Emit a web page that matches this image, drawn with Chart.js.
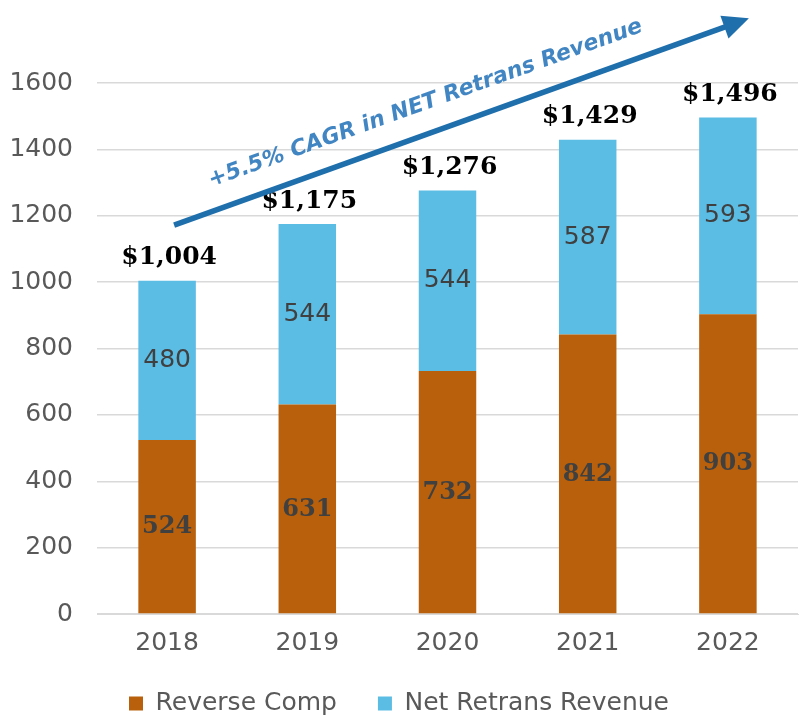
<!DOCTYPE html>
<html><head><meta charset="utf-8">
<script src="https://cdn.jsdelivr.net/npm/chart.js@4.4.0/dist/chart.umd.min.js"></script>
<style>html,body{margin:0;padding:0;background:#fff}#wrap{width:802px;height:720px}</style>
</head><body><div id="wrap"><canvas id="c" width="802" height="720"></canvas></div>
<script>
const categories = ["2018","2019","2020","2021","2022"];
const reverseComp = [524, 631, 732, 842, 903];
const netRetrans = [480, 544, 544, 587, 593];
const totals = [1004, 1175, 1276, 1429, 1496];
const totalLabels = ["$1,004","$1,175","$1,276","$1,429","$1,496"];
const cagrText = "+5.5% CAGR in NET Retrans Revenue";
const arrowFrom = {index: 0, value: 1172};
const arrowTo = {index: 4, value: 1795};

const LEGEND_H = 70;

const legendFix = {
  id: 'legendFix',
  beforeInit(chart) {
    const lg = chart.legend;
    if (!lg) return;
    const orig = lg.fit.bind(lg);
    lg.fit = function () { orig(); this.height = LEGEND_H; };
  }
};

const labelPlugin = {
  id: 'labels',
  afterDatasetsDraw(chart) {
    const ctx = chart.ctx;
    const xs = chart.scales.x, ys = chart.scales.y;
    ctx.save();
    ctx.textAlign = 'center'; ctx.textBaseline = 'middle';
    categories.forEach((c, i) => {
      const x = xs.getPixelForValue(i);
      ctx.font = 'bold 24px "DejaVu Serif"';
      ctx.fillStyle = '#404040';
      ctx.fillText(String(reverseComp[i]), x, ys.getPixelForValue(reverseComp[i] / 2));
      ctx.font = '25px "DejaVu Sans"';
      ctx.fillStyle = '#404040';
      ctx.fillText(String(netRetrans[i]), x, ys.getPixelForValue(reverseComp[i] + netRetrans[i] / 2));
      ctx.font = 'bold 25px "DejaVu Serif"';
      ctx.fillStyle = '#000';
      ctx.fillText(totalLabels[i], x + 2, ys.getPixelForValue(totals[i]) - 23);
    });
    // arrow
    const x1 = xs.getPixelForValue(arrowFrom.index) + 7, y1 = ys.getPixelForValue(arrowFrom.value);
    const x2 = xs.getPixelForValue(arrowTo.index) + 21, y2 = ys.getPixelForValue(arrowTo.value);
    const ang = Math.atan2(y2 - y1, x2 - x1);
    const head = 26, hw = 12;
    ctx.strokeStyle = '#1f6fad'; ctx.fillStyle = '#1f6fad'; ctx.lineWidth = 5.5;
    ctx.beginPath(); ctx.moveTo(x1, y1);
    ctx.lineTo(x2 - head * 0.8 * Math.cos(ang), y2 - head * 0.8 * Math.sin(ang)); ctx.stroke();
    ctx.beginPath();
    ctx.moveTo(x2, y2);
    ctx.lineTo(x2 - head * Math.cos(ang) + hw * Math.sin(ang), y2 - head * Math.sin(ang) - hw * Math.cos(ang));
    ctx.lineTo(x2 - head * Math.cos(ang) - hw * Math.sin(ang), y2 - head * Math.sin(ang) + hw * Math.cos(ang));
    ctx.closePath(); ctx.fill();
    // text
    const tx = (x1 + x2) / 2 - 36, ty = (y1 + y2) / 2 - 18;
    ctx.translate(tx, ty); ctx.rotate(ang);
    ctx.font = 'italic bold 22px "DejaVu Sans"';
    ctx.fillStyle = '#4186c2';
    ctx.fillText(cagrText, 0, 0);
    ctx.restore();
  }
};

new Chart(document.getElementById('c'), {
  type: 'bar',
  data: {
    labels: categories,
    datasets: [
      {label: 'Reverse Comp', data: reverseComp, backgroundColor: '#b8600b', barPercentage: 0.82, categoryPercentage: 0.5},
      {label: 'Net Retrans Revenue', data: netRetrans, backgroundColor: '#5bbce4', barPercentage: 0.82, categoryPercentage: 0.5}
    ]
  },
  options: {
    responsive: false, animation: false, devicePixelRatio: 1,
    layout: {padding: {top: 83, right: 4, left: 0, bottom: 0}},
    plugins: {
      legend: {position: 'bottom', labels: {boxWidth: 14, boxHeight: 14, padding: 41, color: '#595959', font: {family: 'DejaVu Sans', size: 25}}},
      tooltip: {enabled: false}
    },
    scales: {
      x: {stacked: true, grid: {display: false}, border: {color: '#d9d9d9'},
          afterFit: s => { s.height = 720 - LEGEND_H - 614; },
          ticks: {color: '#595959', padding: 6, font: {family: 'DejaVu Sans', size: 25}}},
      y: {stacked: true, min: 0, max: 1600, grid: {color: '#d9d9d9', lineWidth: 1.5, drawTicks: false}, border: {display: false},
          afterFit: s => { s.width = 97; },
          ticks: {stepSize: 200, color: '#595959', padding: 24, font: {family: 'DejaVu Sans', size: 25},
                  callback: v => String(v)}}
    }
  },
  plugins: [legendFix, labelPlugin]
});
</script></body></html>
